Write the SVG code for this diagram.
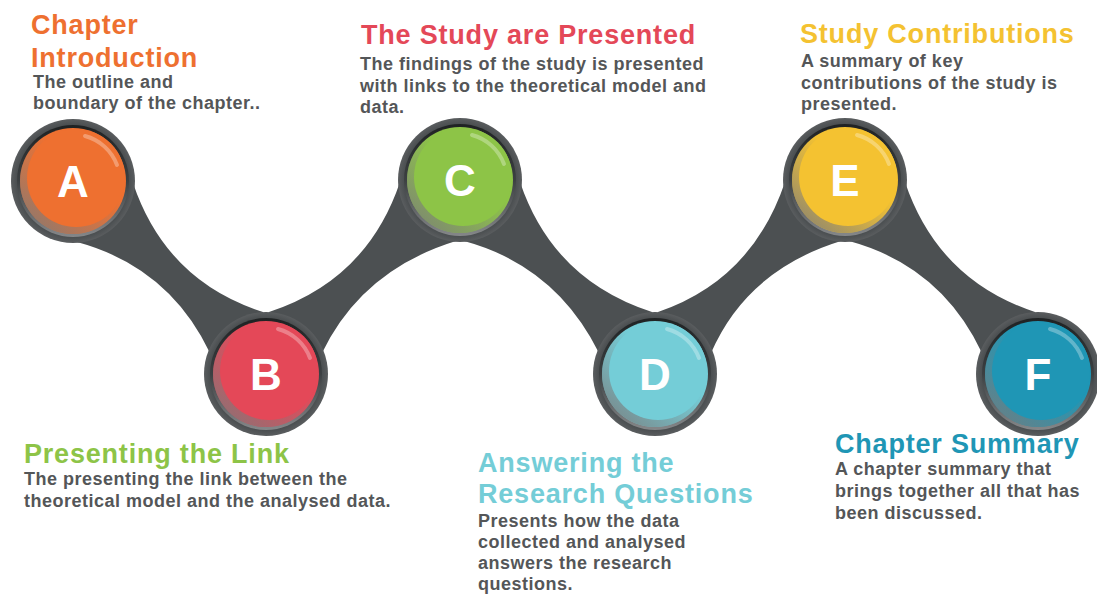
<svg xmlns="http://www.w3.org/2000/svg" xmlns:xlink="http://www.w3.org/1999/xlink" width="1097" height="594" viewBox="0 0 1097 594">
<style>
  .band { fill: #4c5052; }
  .title { font-family: "Liberation Sans", Arial, sans-serif; font-weight: bold; font-size: 27px; letter-spacing: 0.8px; }
  .body { font-family: "Liberation Sans", Arial, sans-serif; font-weight: bold; font-size: 18px; letter-spacing: 0.5px; fill: #545658; }
  .letter { font-family: "Liberation Sans", Arial, sans-serif; font-weight: bold; font-size: 44px; fill: #ffffff; text-anchor: middle; }
  .hl { fill: none; stroke: #ffffff; stroke-opacity: 0.3; stroke-width: 4; stroke-linecap: round; }
</style>
<defs>
  <linearGradient id="bezel" x1="0" y1="0" x2="0" y2="1">
    <stop offset="0" stop-color="#1f2223"/>
    <stop offset="0.5" stop-color="#3c4042"/>
    <stop offset="1" stop-color="#858789"/>
  </linearGradient>
  <radialGradient id="outer" cx="0.5" cy="0.5" r="0.5">
    <stop offset="0.9" stop-color="#4a4e50"/>
    <stop offset="1" stop-color="#5a5d5f"/>
  </radialGradient>
  <linearGradient id="shade" x1="0.8" y1="0.2" x2="0.2" y2="0.9">
    <stop offset="0.3" stop-color="#808080" stop-opacity="0"/>
    <stop offset="1" stop-color="#7a7a7a" stop-opacity="0.7"/>
  </linearGradient>
  <g id="knobBase">
    <circle r="62" fill="url(#outer)"/>
    <circle r="56" fill="url(#bezel)"/>
  </g>
  <g id="knobTop">
    <circle r="53" fill="url(#shade)"/>
  </g>
  <path id="gloss" class="hl" d="M12,-45 A47,47 0 0 1 44,-16"/>
</defs>

<g id="connectors">
  <path class="band" d="M133,183 Q166,281 263,312 L266,374 L210,353 Q169,267 77,242 L73,181 Z"/>
  <path class="band" d="M400,182 Q367,280 269,312 L266,374 L322,353 Q362,270 456,241 L460,180 Z"/>
  <path class="band" d="M520,182 Q553,280 652,312 L655,374 L599,353 Q556,266 464,241 L460,180 Z"/>
  <path class="band" d="M785,182 Q752,280 658,312 L655,374 L711,353 Q747,270 841,241 L845,180 Z"/>
  <path class="band" d="M905,182 Q938,280 1035,312 L1038,374 L982,353 Q941,266 849,241 L845,180 Z"/>
</g>

<g id="node-a">
  <g transform="translate(73,181)">
    <use href="#knobBase"/>
    <circle r="53" fill="#ee7030"/>
    <use href="#knobTop"/>
    <circle cx="3" cy="-3" r="49" fill="#ee7030"/>
    <use href="#gloss"/>
    <text class="letter" y="16">A</text>
  </g>
  <text class="title" fill="#ee7030" x="31" y="34">Chapter</text>
  <text class="title" fill="#ee7030" x="31" y="67">Introduction</text>
  <text class="body" x="33" y="88">The outline and</text>
  <text class="body" x="33" y="109">boundary of the chapter..</text>
</g>

<g id="node-b">
  <g transform="translate(266,374)">
    <use href="#knobBase"/>
    <circle r="53" fill="#e44858"/>
    <use href="#knobTop"/>
    <circle cx="3" cy="-3" r="49" fill="#e44858"/>
    <use href="#gloss"/>
    <text class="letter" y="16">B</text>
  </g>
  <text class="title" fill="#8dc447" x="24" y="463">Presenting the Link</text>
  <text class="body" x="24" y="485">The presenting the link between the</text>
  <text class="body" x="24" y="507">theoretical model and the analysed data.</text>
</g>

<g id="node-c">
  <g transform="translate(460,180)">
    <use href="#knobBase"/>
    <circle r="53" fill="#8dc447"/>
    <use href="#knobTop"/>
    <circle cx="3" cy="-3" r="49" fill="#8dc447"/>
    <use href="#gloss"/>
    <text class="letter" y="16">C</text>
  </g>
  <text class="title" fill="#e44858" x="361" y="44">The Study are Presented</text>
  <text class="body" x="360" y="70">The findings of the study is presented</text>
  <text class="body" x="360" y="92">with links to the theoretical model and</text>
  <text class="body" x="360" y="113">data.</text>
</g>

<g id="node-d">
  <g transform="translate(655,374)">
    <use href="#knobBase"/>
    <circle r="53" fill="#74cdd7"/>
    <use href="#knobTop"/>
    <circle cx="3" cy="-3" r="49" fill="#74cdd7"/>
    <use href="#gloss"/>
    <text class="letter" y="16">D</text>
  </g>
  <text class="title" fill="#74cdd7" x="478" y="472">Answering the</text>
  <text class="title" fill="#74cdd7" x="478" y="503">Research Questions</text>
  <text class="body" x="478" y="527">Presents how the data</text>
  <text class="body" x="478" y="548">collected and analysed</text>
  <text class="body" x="478" y="569">answers the research</text>
  <text class="body" x="478" y="590">questions.</text>
</g>

<g id="node-e">
  <g transform="translate(845,180)">
    <use href="#knobBase"/>
    <circle r="53" fill="#f4c231"/>
    <use href="#knobTop"/>
    <circle cx="3" cy="-3" r="49" fill="#f4c231"/>
    <use href="#gloss"/>
    <text class="letter" y="16">E</text>
  </g>
  <text class="title" fill="#f4c231" x="800" y="43">Study Contributions</text>
  <text class="body" x="801" y="67">A summary of key</text>
  <text class="body" x="801" y="89">contributions of the study is</text>
  <text class="body" x="801" y="110">presented.</text>
</g>

<g id="node-f">
  <g transform="translate(1038,374)">
    <use href="#knobBase"/>
    <circle r="53" fill="#1f96b5"/>
    <use href="#knobTop"/>
    <circle cx="3" cy="-3" r="49" fill="#1f96b5"/>
    <use href="#gloss"/>
    <text class="letter" y="16">F</text>
  </g>
  <text class="title" fill="#1f96b5" x="835" y="453">Chapter Summary</text>
  <text class="body" x="835" y="475">A chapter summary that</text>
  <text class="body" x="835" y="497">brings together all that has</text>
  <text class="body" x="835" y="519">been discussed.</text>
</g>
</svg>
